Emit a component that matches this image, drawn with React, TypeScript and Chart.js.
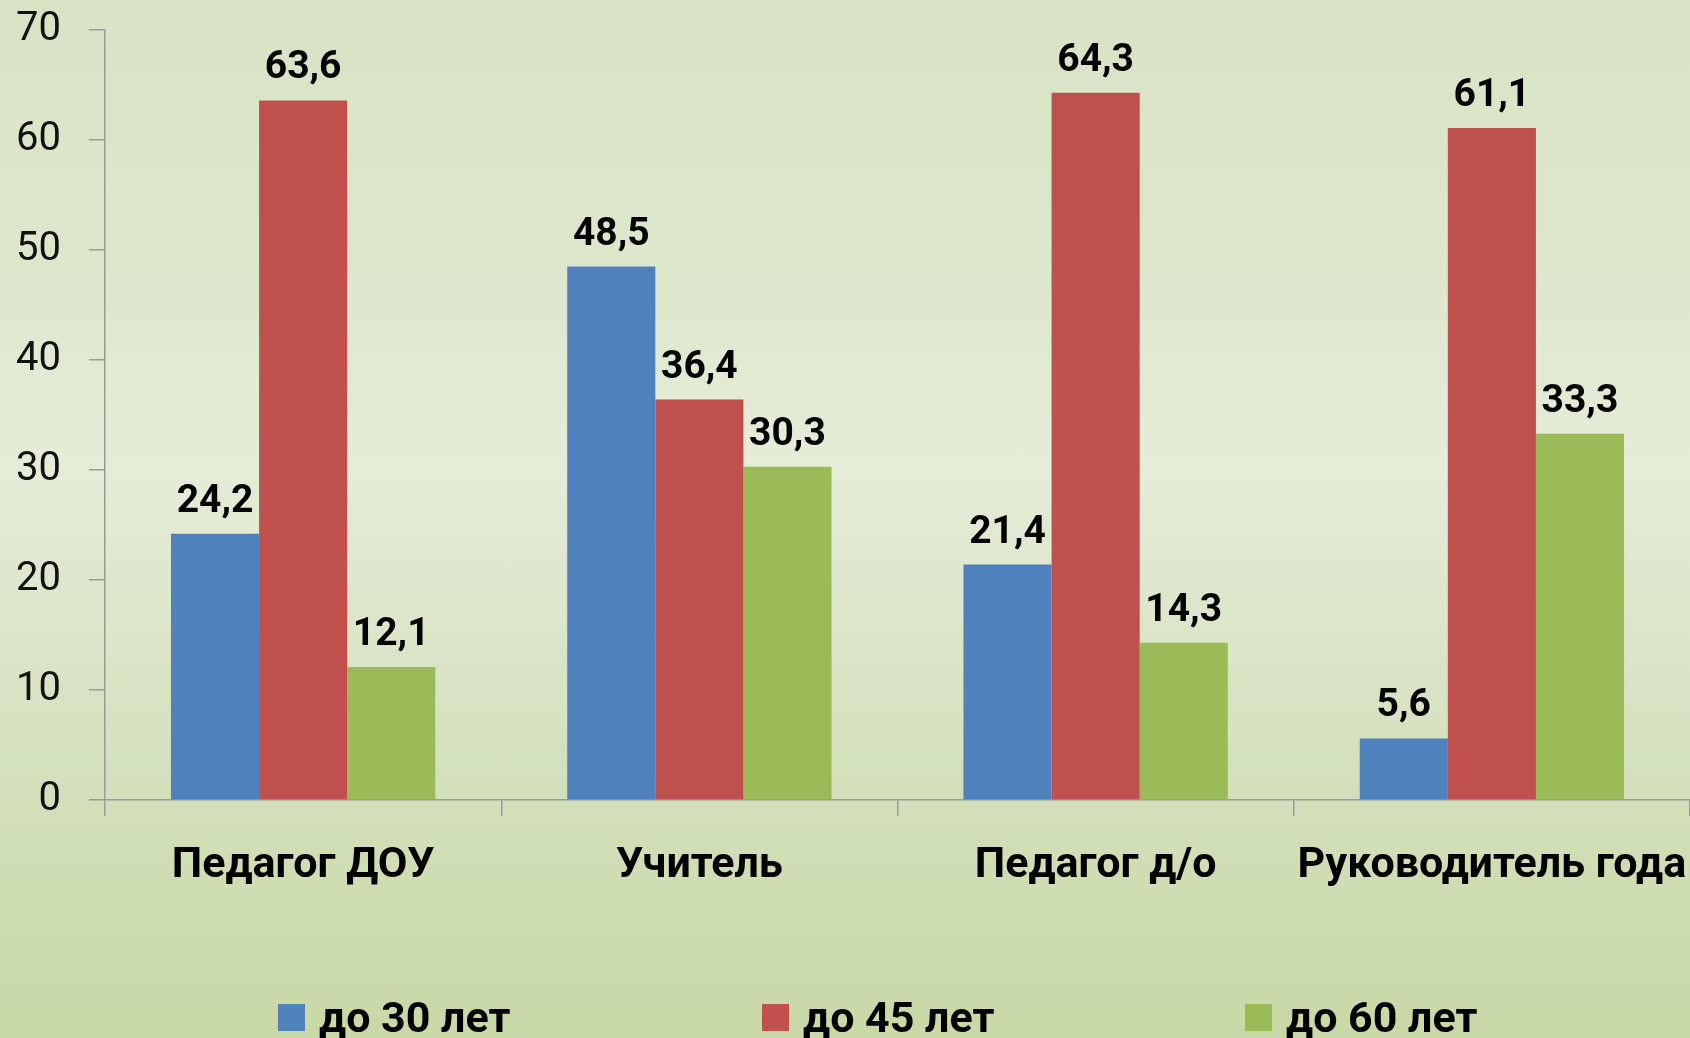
import React, { useEffect, useRef } from "react";
import { Chart, registerables } from "chart.js";

Chart.register(...registerables);

const categories = ["Педагог ДОУ", "Учитель", "Педагог д/о", "Руководитель года"];
const seriesNames = ["до 30 лет", "до 45 лет", "до 60 лет"];
const under30 = [24.2, 48.5, 21.4, 5.6];
const under45 = [63.6, 36.4, 64.3, 61.1];
const under60 = [12.1, 30.3, 14.3, 33.3];
const seriesColors = ["#4F81BD", "#C0504D", "#9BBB59"];
const yMin = 0;
const yMax = 70;
const yStep = 10;

const FONT = "Roboto, 'Noto Sans', sans-serif";

const fmt = (v: number) => v.toFixed(1).replace(".", ",");

const valueLabels = {
  id: "valueLabels",
  afterDatasetsDraw(chart: any) {
    const ctx = chart.ctx;
    ctx.save();
    ctx.font = `bold 39px ${FONT}`;
    ctx.fillStyle = "#000";
    ctx.textAlign = "center";
    ctx.textBaseline = "alphabetic";
    chart.data.datasets.forEach((ds: any, di: number) => {
      const meta = chart.getDatasetMeta(di);
      meta.data.forEach((el: any, i: number) => {
        ctx.fillText(fmt(ds.data[i]), el.x, el.y - 22);
      });
    });
    ctx.restore();
  },
};

const legendXs = [278, 762, 1245];

const customLegend = {
  id: "customLegend",
  afterDraw(chart: any) {
    const ctx = chart.ctx;
    ctx.save();
    ctx.font = `bold 43px ${FONT}`;
    ctx.textAlign = "left";
    ctx.textBaseline = "alphabetic";
    chart.data.datasets.forEach((ds: any, i: number) => {
      const x = legendXs[i];
      ctx.fillStyle = ds.backgroundColor;
      ctx.fillRect(x, 1004, 27, 27);
      ctx.fillStyle = "#000";
      ctx.fillText(ds.label, x + 41, 1032);
    });
    ctx.restore();
  },
};

export default function App() {
  const ref = useRef<HTMLCanvasElement>(null);

  useEffect(() => {
    document.body.style.margin = "0";
    const series = [under30, under45, under60];
    const chart = new Chart(ref.current as HTMLCanvasElement, {
      type: "bar",
      data: {
        labels: categories,
        datasets: series.map((d, i) => ({
          label: seriesNames[i],
          data: d,
          backgroundColor: seriesColors[i],
          borderWidth: 0,
          categoryPercentage: 0.667,
          barPercentage: 1.0,
        })),
      },
      options: {
        animation: false,
        responsive: false,
        devicePixelRatio: 1,
        layout: { padding: { top: 30, right: 0, left: 0, bottom: 0 } },
        plugins: {
          legend: { display: false },
          tooltip: { enabled: false },
          title: { display: false },
        },
        scales: {
          x: {
            grid: {
              offset: true,
              drawOnChartArea: false,
              drawTicks: true,
              tickLength: 16,
              color: "#9a9a9a",
              lineWidth: 1.5,
            },
            border: { display: true, color: "#9a9a9a", width: 1.5 },
            ticks: {
              color: "#000",
              font: { family: FONT, size: 43, weight: "bold" },
              padding: 24,
              maxRotation: 0,
              autoSkip: false,
            },
            afterFit: (s: any) => {
              s.height = 238;
              s.paddingLeft = 0;
              s.paddingRight = 0;
            },
          },
          y: {
            min: yMin,
            max: yMax,
            grid: {
              drawOnChartArea: false,
              drawTicks: true,
              tickLength: 16,
              color: "#9a9a9a",
              lineWidth: 1.5,
            },
            border: { display: true, color: "#9a9a9a", width: 1.5 },
            ticks: {
              stepSize: yStep,
              color: "#111",
              font: { family: FONT, size: 40, weight: "normal" },
              padding: 28,
            },
            afterFit: (s: any) => {
              s.width = 105;
              s.paddingTop = 0;
              s.paddingBottom = 0;
            },
          },
        },
      },
      plugins: [valueLabels, customLegend],
    });
    return () => chart.destroy();
  }, []);

  return (
    <div
      style={{
        position: "fixed",
        left: 0,
        top: 0,
        width: 1690,
        height: 1038,
        background:
          "linear-gradient(180deg, #d8e3c4 0%, #dde7cc 25%, #e5ecd8 45%, #d6e2c0 70%, #c8d8a6 100%)",
      }}
    >
      <canvas ref={ref} width={1690} height={1038} style={{ display: "block" }} />
    </div>
  );
}
